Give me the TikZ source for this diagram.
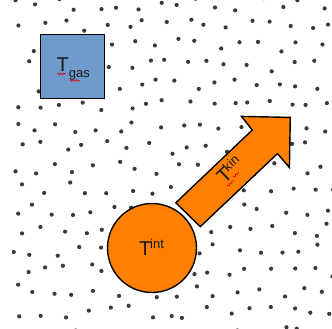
\documentclass[tikz,border=0pt]{standalone}
\usepackage{fontspec}
\setmainfont{Liberation Sans}
\usetikzlibrary{decorations.pathmorphing}
\definecolor{orangeF}{HTML}{FF8000}
\definecolor{blueF}{HTML}{6F9ACC}
\definecolor{dotgray}{HTML}{3A3A3A}
\begin{document}
\begin{tikzpicture}[x=1pt,y=-1pt,
  outline/.style={draw=black,line width=1.4pt},
  maintext/.style={font=\fontsize{20}{24}\selectfont,inner sep=0,text=black!90},
  squiggle/.style={draw=red!85!black,line width=0.6pt,decorate,
    decoration={snake,amplitude=0.9pt,segment length=3pt}},
  dotmark/.style={fill=dotgray}]
\useasboundingbox (0,0) rectangle (332,329);
\fill[white] (0,0) rectangle (332,329);
% dotted background field
\begin{scope}
\clip (12,0) rectangle (332,329);
\pgfmathsetseed{42}
\foreach \j in {0,...,16}{
  \foreach \i in {0,...,16}{
    \pgfmathsetmacro{\dx}{14+\i*20.5+mod(\j,2)*10.25+rand*6.5}
    \pgfmathsetmacro{\dy}{4+\j*20.5+rand*6.5}
    \fill[dotmark] (\dx,\dy) circle[radius=2.1];
  }
}
\end{scope}
% gas box
\node[outline,fill=blueF,minimum size=64pt,inner sep=0] (gasbox) at (72.5,66.6) {};
\node[maintext,anchor=base west] (tgas) at (56.5,71.7)
  {T\raisebox{-6pt}{\fontsize{13}{15}\selectfont gas}};
\draw[squiggle] (57,74) -- (66,74);
\draw[squiggle] (69.5,80.5) -- (79.5,80.5);
% internal ball
\node[outline,fill=orangeF,circle,minimum size=89pt,inner sep=0] (intball) at (152,248) {};
\node[maintext,anchor=base west] (tint) at (138.8,255)
  {T\kern-1pt\raisebox{6.7pt}{\fontsize{13}{15}\selectfont int}};
% kinetic arrow
\draw[outline,fill=orangeF,line join=miter]
  (175.8,202.8) -- (252.3,130) -- (241.5,116.4) -- (290.3,117.4)
  -- (289.4,167.5) -- (277.5,153.6) -- (200.3,226.6) -- cycle;
\begin{scope}[shift={(224.5,185)},rotate=43.4]
  \node[maintext,anchor=base west,transform shape] (tkin) at (0,0)
    {T\kern-1pt\raisebox{7pt}{\fontsize{13}{15}\selectfont kin}};
  \draw[squiggle] (1,3) -- (10,3);
  \draw[squiggle] (11.5,0.5) -- (19,0.5);
\end{scope}
\end{tikzpicture}
\end{document}
